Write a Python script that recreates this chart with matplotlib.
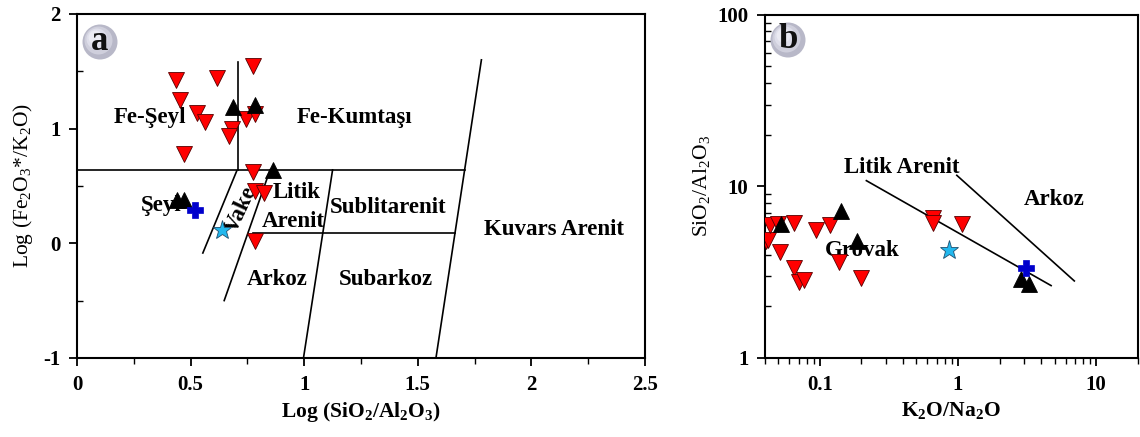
import matplotlib
matplotlib.use("Agg")
import matplotlib.pyplot as plt
from matplotlib.ticker import FixedLocator, FuncFormatter, LogLocator, NullFormatter
from matplotlib.patches import Circle

plt.rcParams['font.family'] = ['Liberation Serif', 'DejaVu Serif']
plt.rcParams['mathtext.fontset'] = 'custom'
plt.rcParams['mathtext.rm'] = 'Liberation Serif'
plt.rcParams['mathtext.it'] = 'Liberation Serif:italic'
plt.rcParams['mathtext.bf'] = 'Liberation Serif:bold'
plt.rcParams['axes.unicode_minus'] = False

# ---- Panel a: log(SiO2/Al2O3) vs log(Fe2O3*/K2O) ----
a_red_x = [0.438, 0.453, 0.617, 0.775, 0.527, 0.564, 0.681, 0.669, 0.471, 0.744, 0.784, 0.774, 0.784, 0.821, 0.784]
a_red_y = [1.42, 1.25, 1.44, 1.55, 1.14, 1.06, 1.00, 0.94, 0.78, 1.08, 1.13, 0.62, 0.46, 0.44, 0.02]
a_blk_x = [0.440, 0.473, 0.686, 0.784, 0.865]
a_blk_y = [0.375, 0.375, 1.19, 1.21, 0.64]
a_plus_x = [0.52]
a_plus_y = [0.29]
a_star_x = [0.637]
a_star_y = [0.12]

# field boundaries (x pairs, y pairs)
a_bounds = [
    ([0.0, 1.706], [0.64, 0.64]),
    ([0.709, 0.709], [0.64, 1.58]),
    ([1.58, 1.78], [-1.0, 1.60]),
    ([0.776, 1.664], [0.09, 0.09]),
    ([0.997, 1.125], [-1.0, 0.64]),
    ([0.703, 0.554], [0.63, -0.085]),
    ([0.85, 0.648], [0.64, -0.50]),
]
a_labels = [
    ("Fe-Şeyl", 0.32, 1.10, 0),
    ("Fe-Kumtaşı", 1.22, 1.10, 0),
    ("Şeyl", 0.37, 0.33, 0),
    ("Vake", 0.72, 0.29, 65),
    ("Litik", 0.965, 0.44, 0),
    ("Arenit", 0.95, 0.19, 0),
    ("Sublitarenit", 1.37, 0.31, 0),
    ("Arkoz", 0.88, -0.32, 0),
    ("Subarkoz", 1.36, -0.32, 0),
    ("Kuvars Arenit", 2.10, 0.12, 0),
]

# ---- Panel b: K2O/Na2O vs SiO2/Al2O3 ----
b_red_x = [0.041, 0.042, 0.0432, 0.0497, 0.051, 0.0653, 0.0653, 0.071, 0.077, 0.094, 0.118, 0.138, 0.200, 0.664, 0.657, 1.07]
b_red_y = [4.8, 4.9, 5.92, 6.0, 4.17, 6.1, 3.36, 2.78, 2.85, 5.58, 5.92, 3.64, 2.94, 6.53, 6.1, 6.0]
b_blk_x = [0.052, 0.142, 0.187, 2.87, 3.27]
b_blk_y = [6.0, 7.14, 4.81, 2.88, 2.68]
b_plus_x = [3.08]
b_plus_y = [3.33]
b_star_x = [0.867]
b_star_y = [4.26]

b_bounds = [
    ([0.217, 4.72], [10.8, 2.64]),
    ([0.98, 6.95], [11.6, 2.81]),
]
b_labels = [
    ("Litik Arenit", 0.394, 12.8),
    ("Arkoz", 4.99, 8.36),
    ("Grovak", 0.203, 4.21),
]

FS = 15
FS_FIELD = 16.5
FS_AXLBL = 15.5

fig = plt.figure(figsize=(11.4, 4.37), dpi=100)
ax1 = fig.add_axes([0.0675, 0.181, 0.4983, 0.787])
ax2 = fig.add_axes([0.671, 0.181, 0.327, 0.785])


def draw_points(ax, rx, ry, kx, ky, px, py, sx, sy):
    ax.plot(rx, ry, 'v', ms=11, mfc='#ff0000', mec='#550000', mew=0.6, ls='none', zorder=3)
    ax.plot(kx, ky, '^', ms=11, mfc='black', mec='black', mew=0.6, ls='none', zorder=3)
    ax.plot(px, py, 'P', ms=11, mfc='#0000cc', mec='#0000cc', mew=0.5, ls='none', zorder=4)
    ax.plot(sx, sy, '*', ms=14, mfc='#22b8ee', mec='#205070', mew=0.6, ls='none', zorder=4)


def badge(fig, xpix, ypix, letter):
    W, H = 1140, 437
    r = 17.5
    for i, c in enumerate(['#b8b8c8', '#cfcfdc', '#dedeea', '#eaeaf2']):
        rr = r * (1 - i * 0.2)
        fig.patches.append(Circle((xpix - i * 1.5, H - ypix + i * 1.5), rr,
                                  transform=None, facecolor=c, edgecolor='none', zorder=5))
    fig.text(xpix / W, 1 - ypix / H, letter, fontsize=25, fontweight='bold',
             ha='center', va='center', color='#111111', zorder=6)


# Panel a
for xs, ys in a_bounds:
    ax1.plot(xs, ys, color='black', lw=1.2, zorder=2)
draw_points(ax1, a_red_x, a_red_y, a_blk_x, a_blk_y, a_plus_x, a_plus_y, a_star_x, a_star_y)
for txt, x, y, rot in a_labels:
    ax1.text(x, y, txt, fontsize=FS_FIELD, fontweight='bold', ha='center', va='center',
             rotation=rot, zorder=2)
ax1.set_xlim(0, 2.5)
ax1.set_ylim(-1, 2)
ax1.xaxis.set_major_locator(FixedLocator([0, 0.5, 1, 1.5, 2, 2.5]))
ax1.xaxis.set_minor_locator(FixedLocator([0.25, 0.75, 1.25, 1.75, 2.25]))
ax1.yaxis.set_major_locator(FixedLocator([-1, 0, 1, 2]))
ax1.yaxis.set_minor_locator(FixedLocator([-0.5, 0.5, 1.5]))
ax1.xaxis.set_major_formatter(FuncFormatter(lambda v, p: ('%g' % v)))
ax1.yaxis.set_major_formatter(FuncFormatter(lambda v, p: ('%g' % v)))
ax1.set_xlabel(r'Log (SiO$_\mathbf{2}$/Al$_\mathbf{2}$O$_\mathbf{3}$)', fontsize=FS_AXLBL, fontweight='bold', labelpad=4)
ax1.set_ylabel(r'Log (Fe$_2$O$_3$*/K$_2$O)', fontsize=FS_AXLBL, labelpad=6)

# Panel b
for xs, ys in b_bounds:
    ax2.plot(xs, ys, color='black', lw=1.2, zorder=2)
draw_points(ax2, b_red_x, b_red_y, b_blk_x, b_blk_y, b_plus_x, b_plus_y, b_star_x, b_star_y)
for txt, x, y in b_labels:
    ax2.text(x, y, txt, fontsize=FS_FIELD, fontweight='bold', ha='center', va='center', zorder=2)
ax2.set_xscale('log')
ax2.set_yscale('log')
ax2.set_xlim(0.04, 20)
ax2.set_ylim(1, 100)
ax2.xaxis.set_major_locator(FixedLocator([0.1, 1, 10]))
ax2.xaxis.set_minor_locator(LogLocator(base=10, subs=range(2, 10)))
ax2.yaxis.set_major_locator(FixedLocator([1, 10, 100]))
ax2.yaxis.set_minor_locator(LogLocator(base=10, subs=range(2, 10)))
ax2.xaxis.set_minor_formatter(NullFormatter())
ax2.yaxis.set_minor_formatter(NullFormatter())
ax2.xaxis.set_major_formatter(FuncFormatter(lambda v, p: '%g' % v))
ax2.yaxis.set_major_formatter(FuncFormatter(lambda v, p: '%g' % v))
ax2.set_xlabel(r'K$_\mathbf{2}$O/Na$_\mathbf{2}$O', fontsize=FS_AXLBL, fontweight='bold', labelpad=4)
ax2.set_ylabel(r'SiO$_2$/Al$_2$O$_3$', fontsize=FS_AXLBL, labelpad=4)

for ax in (ax1, ax2):
    for s in ax.spines.values():
        s.set_linewidth(1.5)
    ax.tick_params(axis='both', which='major', labelsize=FS, width=1.3, length=6, direction='out', pad=6)
    ax.tick_params(axis='x', which='minor', width=1.0, length=4, direction='out')
    ax.tick_params(axis='y', which='minor', width=1.0, length=4, direction='in')
    for lbl in ax.get_xticklabels() + ax.get_yticklabels():
        lbl.set_fontweight('bold')

badge(fig, 100, 42, 'a')
badge(fig, 788, 40, 'b')

fig.savefig('out.png', dpi=100)
